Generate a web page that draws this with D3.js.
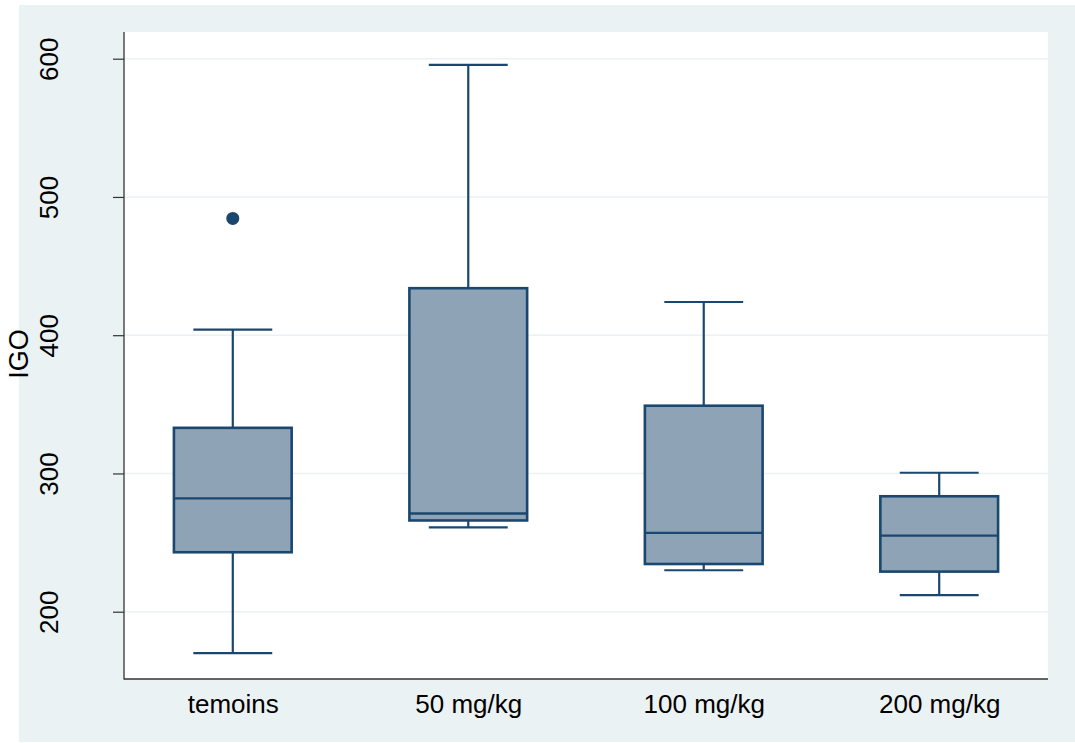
<!DOCTYPE html>
<html>
<head>
<meta charset="utf-8">
<script src="https://cdn.jsdelivr.net/npm/d3@7"></script>
<style>
  html, body { margin: 0; padding: 0; background: #ffffff; }
  svg { display: block; }
  text { font-family: "Liberation Sans", Arial, sans-serif; fill: #000; }
</style>
</head>
<body>
<svg id="chart" width="1075" height="743"></svg>
<script>
// Groups and their box-plot summaries (IGO)
const groups = ["temoins", "50 mg/kg", "100 mg/kg", "200 mg/kg"];
const lowerWhisker = [170, 261, 230, 212];
const q1 = [243, 266, 234.5, 229];
const median = [282, 271, 257, 255];
const q3 = [333, 434, 349, 283.5];
const upperWhisker = [404, 595.5, 424, 300.5];
const outliers = [[484.5], [], [], []];
const yTicks = [200, 300, 400, 500, 600];
const yTitle = "IGO";

const svg = d3.select("#chart");
const W = 1075, H = 743;
const plot = { left: 124, right: 1048, top: 32, bottom: 679 };

const navy = "#1a476f";
const boxFill = "#8ea3b6";
const bg = "#eaf2f3";

// Outer graph region
svg.append("rect").attr("x", 19).attr("y", 5).attr("width", W - 19).attr("height", 737).attr("fill", bg);
// Plot region
svg.append("rect").attr("x", plot.left).attr("y", plot.top)
  .attr("width", plot.right - plot.left).attr("height", plot.bottom - plot.top).attr("fill", "#ffffff");

const y = d3.scaleLinear().domain([200, 600]).range([611.7, 58.7]);
const x = d3.scalePoint().domain(groups).range([plot.left, plot.right]).padding(0.462);
const step = x.step();
const boxW = step * 0.5;
const capW = step * 0.335;

// Gridlines
svg.append("g").selectAll("line").data(yTicks).join("line")
  .attr("x1", plot.left).attr("x2", plot.right)
  .attr("y1", d => y(d)).attr("y2", d => y(d))
  .attr("stroke", bg).attr("stroke-width", 1.6);

// Y axis
const yAxis = d3.axisLeft(y).tickValues(yTicks).tickSize(11).tickPadding(0).tickFormat(d3.format("d"));
const gy = svg.append("g").attr("transform", `translate(${plot.left},0)`).call(yAxis);
gy.select(".domain").remove();
gy.selectAll(".tick line").attr("stroke", "#333").attr("stroke-width", 1.2);
gy.selectAll(".tick text")
  .attr("transform", null)
  .attr("x", null).attr("dy", null)
  .attr("text-anchor", "middle")
  .attr("font-size", 26)
  .attr("transform", function () {
    return `translate(${57.5 - plot.left},0) rotate(-90)`;
  })
  .attr("y", 0);

// X axis labels
const xAxis = d3.axisBottom(x).tickSize(0).tickPadding(0);
const gx = svg.append("g").attr("transform", `translate(0,${plot.bottom})`).call(xAxis);
gx.select(".domain").remove();
gx.selectAll(".tick text").attr("dy", null).attr("y", 34).attr("font-size", 26);

// Axis lines
svg.append("line").attr("x1", plot.left).attr("x2", plot.left).attr("y1", plot.top).attr("y2", plot.bottom + 0.6)
  .attr("stroke", "#333").attr("stroke-width", 1.3);
svg.append("line").attr("x1", plot.left).attr("x2", plot.right).attr("y1", plot.bottom).attr("y2", plot.bottom)
  .attr("stroke", "#333").attr("stroke-width", 1.3);

// Y title
svg.append("text").attr("transform", `translate(28,354) rotate(-90)`)
  .attr("text-anchor", "middle").attr("font-size", 27).text(yTitle);

// Boxes
const g = svg.append("g");
groups.forEach((grp, i) => {
  const cx = x(grp);
  const sw = 2.2;
  // whiskers
  g.append("line").attr("x1", cx).attr("x2", cx).attr("y1", y(q3[i])).attr("y2", y(upperWhisker[i]))
    .attr("stroke", navy).attr("stroke-width", sw);
  g.append("line").attr("x1", cx).attr("x2", cx).attr("y1", y(q1[i])).attr("y2", y(lowerWhisker[i]))
    .attr("stroke", navy).attr("stroke-width", sw);
  // caps
  [upperWhisker[i], lowerWhisker[i]].forEach(v => {
    g.append("line").attr("x1", cx - capW / 2).attr("x2", cx + capW / 2).attr("y1", y(v)).attr("y2", y(v))
      .attr("stroke", navy).attr("stroke-width", sw);
  });
  // box
  g.append("rect").attr("x", cx - boxW / 2).attr("width", boxW)
    .attr("y", y(q3[i])).attr("height", y(q1[i]) - y(q3[i]))
    .attr("fill", boxFill).attr("stroke", navy).attr("stroke-width", 2.6);
  // median
  g.append("line").attr("x1", cx - boxW / 2).attr("x2", cx + boxW / 2).attr("y1", y(median[i])).attr("y2", y(median[i]))
    .attr("stroke", navy).attr("stroke-width", 2.4);
  // outliers
  outliers[i].forEach(v => {
    g.append("circle").attr("cx", cx).attr("cy", y(v)).attr("r", 6.5).attr("fill", navy);
  });
});
</script>
</body>
</html>
